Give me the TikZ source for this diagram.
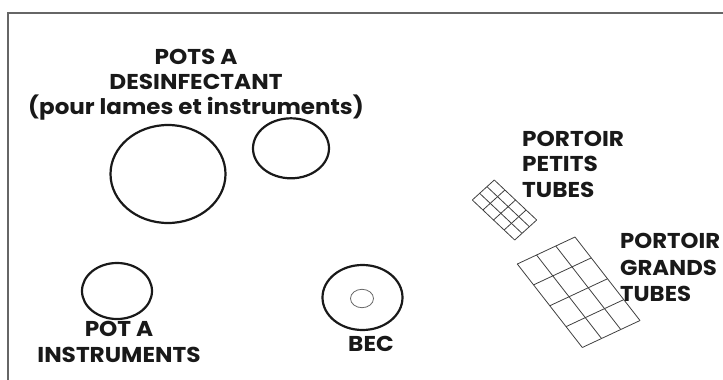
\documentclass[tikz,border=0pt]{standalone}
\usepackage{fontspec}
\usepackage{graphicx}
\setmainfont{Poppins}
\usetikzlibrary{calc}
\tikzset{
  lbl/.style={inner sep=0pt, font=\fontsize{21.5}{24}\selectfont\bfseries, text=black!90},
  pot/.style={line width=2.2pt, draw=black!90},
  rackline/.style={line width=0.8pt, draw=black!75},
  frame/.style={line width=2pt, draw=black!60}
}
\begin{document}
\begin{tikzpicture}[x=1pt,y=-1pt]
\useasboundingbox (0,0) rectangle (723,380);
% frame
\draw[frame] (8.3,380) -- (8.3,12.7) -- (723,12.7);
% labels
\node[lbl, anchor=base] (t1) at (196,64) {\scalebox{1.08}[1]{POTS A}};
\node[lbl, anchor=base] (t2) at (196,89) {\scalebox{1.08}[1]{DESINFECTANT}};
\node[lbl, anchor=base] (t3) at (196,114) {\scalebox{1.07}[1]{(pour lames et instruments)}};
\node[lbl, anchor=base west] (p1) at (522,146) {\scalebox{1.08}[1]{PORTOIR}};
\node[lbl, anchor=base west] (p2) at (522,171) {\scalebox{1.08}[1]{PETITS}};
\node[lbl, anchor=base west] (p3) at (522,197) {\scalebox{1.08}[1]{TUBES}};
\node[lbl, anchor=base west] (g1) at (620,248) {\scalebox{1.06}[1]{PORTOIR}};
\node[lbl, anchor=base west] (g2) at (620,275) {\scalebox{1.06}[1]{GRANDS}};
\node[lbl, anchor=base west] (g3) at (620,301.5) {\scalebox{1.06}[1]{TUBES}};
\node[lbl, anchor=base] (i1) at (119,336.5) {\scalebox{1.08}[1]{POT A}};
\node[lbl, anchor=base] (i2) at (119,362) {\scalebox{1.08}[1]{INSTRUMENTS}};
\node[lbl, anchor=base] (b1) at (371,351.5) {\scalebox{1.08}[1]{BEC}};
% pots
\draw[pot] (168,174) ellipse [x radius=57.5, y radius=49];
\draw[pot] (291,148.3) ellipse [x radius=38, y radius=30];
\draw[pot] (117,291) ellipse [x radius=35, y radius=28];
\draw[pot] (362.5,297.5) ellipse [x radius=40, y radius=32.5];
\draw[line width=0.8pt, draw=black!60] (362,298.5) ellipse [x radius=11.5, y radius=9.2];
% small rack
\coordinate (sL) at (472.3,200);
\coordinate (sT) at (494.3,180);
\coordinate (sR) at (536.7,220);
\coordinate (sB) at (514.7,240);
\foreach \i in {0,1,2,3} {
  \draw[rackline] ($(sL)!\i/3!(sT)$) -- ($(sB)!\i/3!(sR)$);
}
\foreach \j in {0,1,2,3,4} {
  \draw[rackline] ($(sL)!\j/4!(sB)$) -- ($(sT)!\j/4!(sR)$);
}
% large rack
\coordinate (lL) at (517.3,264);
\coordinate (lT) at (575,237);
\coordinate (lR) at (640,320.5);
\coordinate (lB) at (582.3,347.5);
\foreach \i in {0,1,2,3} {
  \draw[rackline] ($(lL)!\i/3!(lT)$) -- ($(lB)!\i/3!(lR)$);
}
\foreach \j in {0,1,2,3,4} {
  \draw[rackline] ($(lL)!\j/4!(lB)$) -- ($(lT)!\j/4!(lR)$);
}
\end{tikzpicture}
\end{document}
